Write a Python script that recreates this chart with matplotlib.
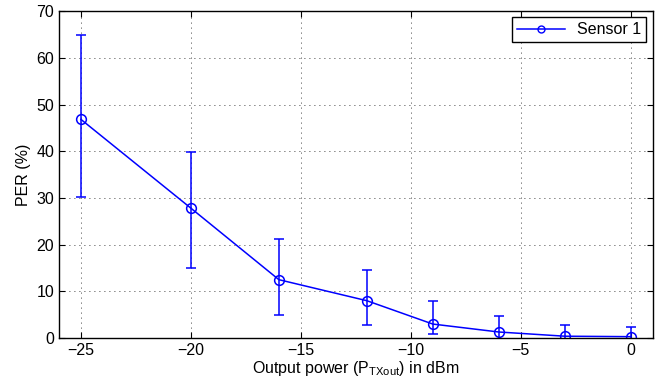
import matplotlib
matplotlib.use("Agg")
import matplotlib.pyplot as plt
from matplotlib.lines import Line2D

plt.rcParams["font.family"] = ["Liberation Sans", "DejaVu Sans"]
plt.rcParams["mathtext.fontset"] = "custom"
plt.rcParams["mathtext.rm"] = "Liberation Sans"
plt.rcParams["mathtext.it"] = "Liberation Sans"

power = [-25, -20, -16, -12, -9, -6, -3, 0]
per = [46.8, 27.8, 12.5, 8.0, 3.0, 1.3, 0.4, 0.3]
per_upper = [64.8, 39.8, 21.3, 14.6, 7.9, 4.7, 2.7, 2.4]
per_lower = [30.2, 15.0, 5.0, 2.8, 0.9, -1.0, -1.0, -1.0]

err_low = [p - lo for p, lo in zip(per, per_lower)]
err_high = [hi - p for p, hi in zip(per, per_upper)]

fig = plt.figure(figsize=(6.67, 3.82), dpi=100)
ax = fig.add_axes([0.0885, 0.115, 0.890, 0.856])

ax.errorbar(power, per, yerr=[err_low, err_high], color="blue", lw=1.1,
            marker="o", markersize=7, markerfacecolor="none",
            markeredgecolor="blue", markeredgewidth=1.1,
            capsize=3.6, capthick=1.1, elinewidth=1.1)

ax.set_xlim(-26, 1)
ax.set_ylim(0, 70)
ax.set_xticks([-25, -20, -15, -10, -5, 0])
ax.set_yticks(range(0, 71, 10))
ax.grid(True, color="black", linestyle=(0, (1, 5)), linewidth=0.6)
ax.tick_params(direction="in", top=True, right=True, labelsize=11.5, length=4)
for s in ax.spines.values():
    s.set_linewidth(1.0)

ax.set_xlabel("Output power (P$_{\\mathrm{TXout}}$) in dBm", fontsize=11.5, labelpad=1)
ax.set_ylabel("PER (%)", fontsize=11.5)

handle = Line2D([], [], color="blue", lw=1.1, marker="o", markersize=5,
                markerfacecolor="none", markeredgecolor="blue")
leg = ax.legend([handle], ["Sensor 1"], loc="upper right", fontsize=11.5,
                fancybox=False, framealpha=1, edgecolor="black",
                borderaxespad=0.4, handlelength=3, borderpad=0.3)
leg.get_frame().set_linewidth(1.0)

fig.savefig("out.png", dpi=100)
